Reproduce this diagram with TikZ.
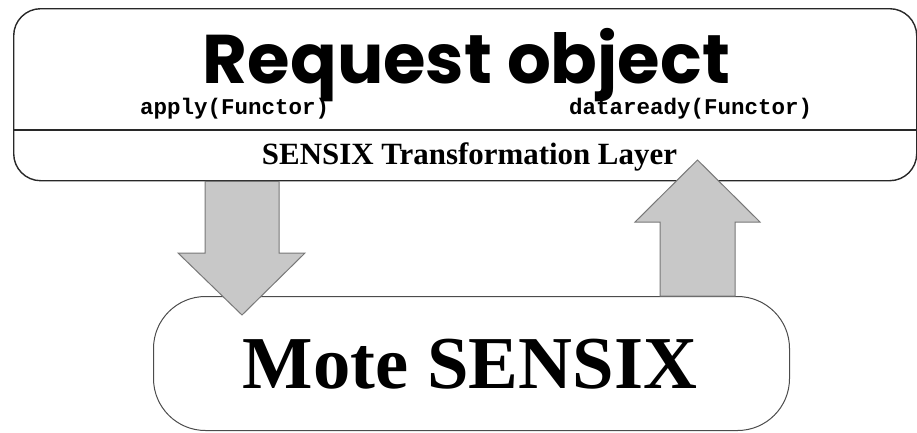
\documentclass[tikz,border=0pt]{standalone}
\usepackage{fontspec}
\setmainfont{Liberation Serif}
\setmonofont{Liberation Mono}
\newfontfamily\geofont{Poppins}
\usetikzlibrary{calc}
\definecolor{arrowfill}{RGB}{200,200,200}
\definecolor{arrowline}{RGB}{120,120,120}
\definecolor{boxline}{RGB}{40,40,40}
\tikzset{
  panel/.style={draw=boxline, line width=1.4pt, fill=white, inner sep=0pt},
  blockarrow/.style={draw=arrowline, line width=1pt, fill=arrowfill, line join=miter},
  functor/.style={anchor=base west, inner sep=0pt, font=\ttfamily\bfseries\fontsize{22.5}{24}\selectfont},
}
\begin{document}
\begin{tikzpicture}[x=1pt, y=-1pt]
\useasboundingbox (0,0) rectangle (917,432);

% Request object with its transformation layer
\node[panel, rounded corners=27pt, minimum width=903pt, minimum height=172pt, anchor=north west] (req) at (13,8) {};
\draw[boxline, line width=1.2pt] (req.west |- 0,130) coordinate (divl) -- (req.east |- 0,130) coordinate (divr);
\node[anchor=base, inner sep=0pt] (title) at (466.5,83)
  {\resizebox{527pt}{!}{\geofont\bfseries\fontsize{79}{80}\selectfont Request object}};
\node[functor] (apply) at (140,114) {apply(Functor)};
\node[functor] (ready) at (569,114) {dataready(Functor)};
\node[anchor=base, inner sep=0pt] (layer) at (469.5,164)
  {\resizebox{415pt}{!}{\bfseries\fontsize{26}{28}\selectfont SENSIX Transformation Layer}};

% Mote SENSIX
\node[panel, draw=black!70, line width=1pt, rounded corners=52pt, minimum width=636pt, minimum height=134pt, anchor=north west] (mote) at (153,296) {};
\node[anchor=base, inner sep=0pt] (motetext) at (470,388)
  {\resizebox{454pt}{!}{\bfseries\fontsize{72}{74}\selectfont Mote SENSIX}};

% Downward block arrow: request -> mote
\coordinate (dtop) at (req.south -| 242,0);
\coordinate (dtip) at (242,315);
\draw[blockarrow] ($(dtop)+(-37,0)$) -- ($(dtop)+(37,0)$) -- (279,253) -- (305,253)
  -- (dtip) -- (178,253) -- (205,253) -- cycle;

% Upward block arrow: mote -> request
\coordinate (ubot) at (mote.north -| 697.5,0);
\coordinate (utip) at (697.5,160);
\draw[blockarrow] ($(ubot)+(-37.5,0)$) -- (660,222) -- (635,222) -- (utip)
  -- (760,222) -- (735,222) -- ($(ubot)+(37.5,0)$) -- cycle;
\end{tikzpicture}
\end{document}
